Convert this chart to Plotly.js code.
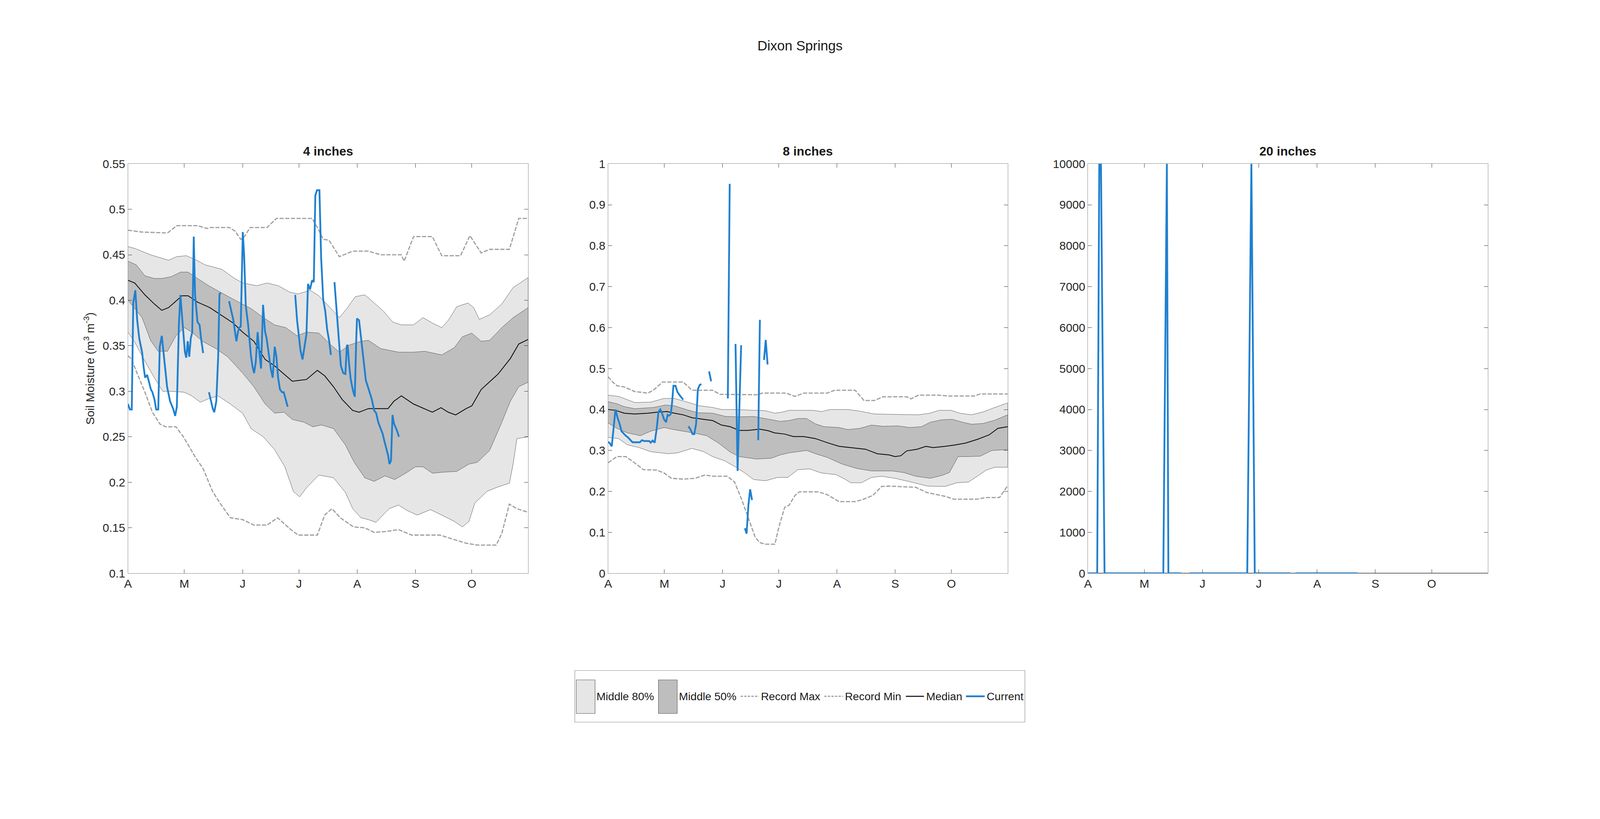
<!DOCTYPE html>
<html>
<head>
<meta charset="utf-8">
<title>Dixon Springs soil moisture</title>
<script src="https://cdn.plot.ly/plotly-3.0.1.min.js"></script>
<style>
  html, body { margin: 0; padding: 0; background: #ffffff; overflow: hidden; }
  #mainViz { width: 100vw; height: 100vh; }
</style>
</head>
<body>
<div id="mainViz"></div>
<script>
// x axis = days since April 1 (Apr 1 .. Oct 31)
const monthTickDays = [0, 30, 61, 91, 122, 153, 183];
const monthTickLabels = ['A', 'M', 'J', 'J', 'A', 'S', 'O'];
const seasonEnd = 213;

const panelTitles = ['4 inches', '8 inches', '20 inches'];
const legendLabels = ['Middle 80%', 'Middle 50%', 'Record Max', 'Record Min', 'Median', 'Current'];

// y ticks per panel
const yTicks4 = [0.1, 0.15, 0.2, 0.25, 0.3, 0.35, 0.4, 0.45, 0.5, 0.55];
const yLabels4 = ['0.1', '0.15', '0.2', '0.25', '0.3', '0.35', '0.4', '0.45', '0.5', '0.55'];
const yTicks8 = [0, 0.1, 0.2, 0.3, 0.4, 0.5, 0.6, 0.7, 0.8, 0.9, 1];
const yLabels8 = ['0', '0.1', '0.2', '0.3', '0.4', '0.5', '0.6', '0.7', '0.8', '0.9', '1'];
const yTicks20 = [0, 1000, 2000, 3000, 4000, 5000, 6000, 7000, 8000, 9000, 10000];
const yLabels20 = ['0', '1000', '2000', '3000', '4000', '5000', '6000', '7000', '8000', '9000', '10000'];

// ---------------- 4 inches ----------------
const p90Days4 = [0, 3.6, 12, 21.6, 26, 31, 36.5, 41, 50, 56, 61, 68.6, 74, 80, 86, 90.6, 97, 101.6, 108, 112.5,
  116.5, 121, 126, 130, 136, 141, 145.5, 152, 157, 162, 167, 170.5, 175, 181, 184, 187, 192.5, 199, 205, 213];
const p90_4 = [0.459, 0.457, 0.450, 0.444, 0.448, 0.449, 0.444, 0.439, 0.434, 0.425, 0.419, 0.416, 0.419, 0.416, 0.409, 0.407, 0.411, 0.405, 0.391, 0.381,
  0.391, 0.404, 0.406, 0.399, 0.388, 0.376, 0.373, 0.373, 0.381, 0.375, 0.370, 0.378, 0.393, 0.397, 0.392, 0.379, 0.384, 0.396, 0.414, 0.425];

const p75Days4 = [0, 4.4, 9, 14, 18, 23, 28, 32, 37, 43, 50, 58, 65.5, 72, 78, 84, 90, 95, 101.6, 108,
  112.5, 118, 124, 128, 134.5, 144, 152, 158, 167, 173.7, 178, 183, 188, 192.5, 199, 205, 213];
const p75_4 = [0.443, 0.439, 0.427, 0.424, 0.424, 0.426, 0.431, 0.431, 0.424, 0.416, 0.408, 0.399, 0.391, 0.381, 0.373, 0.370, 0.361, 0.365, 0.364, 0.351,
  0.343, 0.351, 0.355, 0.356, 0.347, 0.343, 0.343, 0.344, 0.340, 0.348, 0.360, 0.364, 0.355, 0.356, 0.370, 0.381, 0.392];

const medDays4 = [0, 3.6, 9, 14, 18, 21.6, 25.5, 28.7, 32, 37, 43.5, 50, 56, 61, 67, 73, 78, 83, 87.5, 91,
  95, 100.8, 104.7, 109.4, 114, 119.6, 123, 128, 138.4, 141.5, 145.5, 152, 156.4, 162, 166.6, 170.5, 174.4, 180, 183, 188,
  197, 203.5, 208, 213];
const median4 = [0.422, 0.419, 0.406, 0.396, 0.389, 0.392, 0.399, 0.405, 0.405, 0.398, 0.392, 0.383, 0.375, 0.365, 0.355, 0.335, 0.328, 0.319, 0.311, 0.312,
  0.313, 0.323, 0.317, 0.305, 0.291, 0.279, 0.277, 0.281, 0.281, 0.289, 0.295, 0.286, 0.282, 0.277, 0.282, 0.277, 0.274, 0.281, 0.284, 0.302,
  0.319, 0.336, 0.352, 0.357];

const p25Days4 = [0, 3.6, 7.5, 12, 16, 21, 25.5, 30, 34, 39.6, 46.7, 53, 61, 67, 73, 78, 83, 87.5, 93.7, 98.4,
  103, 109.4, 115.7, 120.4, 126, 131, 136.8, 142, 148.6, 153, 157, 162, 167, 175, 181.5, 186, 192.5, 199, 203.5, 208, 213];
const p25_4 = [0.400, 0.391, 0.381, 0.356, 0.344, 0.344, 0.361, 0.370, 0.365, 0.355, 0.347, 0.338, 0.320, 0.305, 0.286, 0.276, 0.277, 0.269, 0.266, 0.261,
  0.263, 0.259, 0.241, 0.222, 0.205, 0.201, 0.207, 0.203, 0.211, 0.217, 0.217, 0.210, 0.211, 0.212, 0.220, 0.222, 0.235, 0.266, 0.289, 0.305, 0.310];

const p10Days4 = [0, 3.6, 9, 14, 18.5, 23, 30, 34, 38.5, 43, 48, 54.5, 61, 65.5, 72, 78, 83.5, 88, 91.4, 95,
  101.6, 109.4, 115.7, 119.6, 124, 128, 132, 139, 144, 148.6, 154, 161, 167, 173.7, 178, 181.5, 184.6, 191, 197, 203,
  205, 207, 213];
const p10_4 = [0.365, 0.354, 0.333, 0.315, 0.300, 0.300, 0.299, 0.295, 0.288, 0.292, 0.295, 0.286, 0.276, 0.259, 0.250, 0.236, 0.217, 0.190, 0.184, 0.194,
  0.208, 0.205, 0.189, 0.171, 0.161, 0.159, 0.156, 0.171, 0.175, 0.169, 0.164, 0.170, 0.164, 0.157, 0.151, 0.157, 0.177, 0.190, 0.195, 0.199,
  0.220, 0.248, 0.250];

const maxDays4 = [0, 7.5, 21, 26, 37, 42, 44, 54, 57, 60, 62, 65, 74, 79, 98, 100, 104, 107, 112.5, 119.6,
  128, 134.5, 145.5, 147, 152, 162, 167, 177, 182, 188, 192.5, 203, 208, 213];
const recMax4 = [0.477, 0.475, 0.474, 0.482, 0.482, 0.479, 0.480, 0.480, 0.476, 0.467, 0.470, 0.480, 0.480, 0.490, 0.490, 0.483, 0.467, 0.466, 0.448, 0.454,
  0.454, 0.450, 0.450, 0.443, 0.470, 0.470, 0.449, 0.449, 0.471, 0.452, 0.456, 0.456, 0.490, 0.490];

const minDays4 = [0, 2, 4.4, 9, 13, 17, 20, 25.5, 29.5, 36, 40, 45, 49, 54.5, 61, 67, 74, 79.6, 86.7, 90.6,
  100.8, 104.7, 108.6, 113, 120, 126, 131, 137.6, 144, 151, 166, 172, 180, 186, 196, 199, 203, 207, 213];
const recMin4 = [0.339, 0.335, 0.322, 0.299, 0.277, 0.264, 0.261, 0.261, 0.250, 0.227, 0.215, 0.190, 0.177, 0.161, 0.159, 0.153, 0.153, 0.161, 0.148, 0.142,
  0.142, 0.164, 0.171, 0.161, 0.151, 0.150, 0.145, 0.146, 0.148, 0.142, 0.142, 0.138, 0.133, 0.131, 0.131, 0.144, 0.176, 0.171, 0.167];

// current season, null = missing data
const curDays4 = [0, 1, 2, 2.8, 3.9, 4.9, 6, 7.5, 8.3, 9.1, 10.2, 11, 12.2, 13, 14.1, 15, 16.1, 16.9, 18, 19.3,
  20.8, 22.4, 24, 25.1, 26, 27.1, 27.9, 28.7, 29.5, 30.3, 31, 31.8, 32.6, 33.4, 34.2, 35, 35.7, 37, 38.1, 38.9, 40,
  null,
  43.1, 44.4, 45.1, 45.9, 47, 48, 48.7, 49.5,
  null,
  53.8, 55, 56.1, 56.9, 57.7, 58.5, 59.2, 60, 61.1, 61.8, 62.7, 63.9, 64.9, 65.5, 66.3, 67.1, 68, 69, 69.9, 70.8,
  71.9, 72.9, 73.8, 74.9, 76, 77, 78.1, 79, 79.9, 80.9, 82, 82.9, 83.9, 85,
  null,
  89, 90, 91.1, 91.8, 92.9, 94, 95, 95.8, 96.9, 98, 98.9, 99.7, 100.6, 101.9, 102.8, 103.9, 105, 106, 107.1, 108,
  null,
  109.9, 111, 112.2, 113.3, 114.6, 115.7, 116.5, 116.9, 117.6, 118.5, 119.6, 120.7, 121.5, 121.9, 123, 123.8, 124.8, 125.9, 126.6, 127.7,
  128.7, 129.8, 131, 132.1, 133.2, 134.5, 135.6, 136.5, 137.6, 138.4, 139.2, 140, 140.8, 141.5, 142.3, 143.3, 144.2];
const current4 = [0.286, 0.280, 0.280, 0.397, 0.411, 0.378, 0.358, 0.343, 0.327, 0.315, 0.318, 0.312, 0.302, 0.299, 0.291, 0.280, 0.280, 0.349, 0.361, 0.335,
  0.305, 0.289, 0.281, 0.273, 0.283, 0.374, 0.406, 0.384, 0.361, 0.343, 0.337, 0.355, 0.338, 0.358, 0.365, 0.470, 0.406, 0.376, 0.373, 0.358, 0.342,
  null,
  0.299, 0.287, 0.281, 0.277, 0.289, 0.338, 0.407, 0.408,
  null,
  0.399, 0.388, 0.378, 0.366, 0.355, 0.365, 0.370, 0.371, 0.475, 0.450, 0.394, 0.374, 0.351, 0.338, 0.327, 0.320, 0.332, 0.365, 0.343, 0.325,
  0.395, 0.366, 0.358, 0.342, 0.325, 0.315, 0.349, 0.338, 0.315, 0.302, 0.299, 0.299, 0.291, 0.283,
  null,
  0.406, 0.378, 0.358, 0.345, 0.335, 0.351, 0.363, 0.418, 0.412, 0.422, 0.420, 0.515, 0.521, 0.521, 0.447, 0.401, 0.388, 0.368, 0.355, 0.340,
  null,
  0.420, 0.391, 0.358, 0.328, 0.320, 0.319, 0.350, 0.351, 0.332, 0.314, 0.302, 0.294, 0.358, 0.380, 0.378, 0.365, 0.345, 0.325, 0.312, 0.305,
  0.299, 0.291, 0.279, 0.276, 0.266, 0.259, 0.253, 0.245, 0.236, 0.230, 0.220, 0.224, 0.274, 0.265, 0.261, 0.256, 0.250];

// ---------------- 8 inches ----------------
const p90Days8 = [0, 5.5, 10.2, 14.1, 22.7, 29.8, 35.3, 41.6, 48.6, 55.7, 60.4, 68.2, 77.6, 83.9, 88.9, 93.3, 96.4, 109, 113.7, 118.4,
  127.8, 134.1, 141.9, 152.9, 165.4, 171.7, 176.4, 182.7, 187.4, 193.7, 199.9, 206.2, 213];
const p90_8 = [0.435, 0.432, 0.424, 0.417, 0.418, 0.427, 0.427, 0.419, 0.409, 0.405, 0.400, 0.400, 0.398, 0.397, 0.391, 0.394, 0.398, 0.398, 0.395, 0.400,
  0.400, 0.396, 0.389, 0.388, 0.387, 0.391, 0.398, 0.398, 0.391, 0.387, 0.394, 0.405, 0.416];

const p75Days8 = [0, 4.7, 8.6, 14.1, 24.3, 30.6, 35.3, 41.6, 47.8, 55.7, 62.7, 69.8, 77.6, 85.5, 91.7, 96.4, 101.1, 105.8, 110.5, 115.2,
  123.1, 127.8, 134.1, 140.4, 146.6, 154.4, 160.7, 167, 171.7, 178, 183.5, 189, 193.7, 199.9, 206.2, 213];
const p75_8 = [0.419, 0.414, 0.407, 0.402, 0.405, 0.411, 0.409, 0.400, 0.392, 0.391, 0.383, 0.382, 0.383, 0.376, 0.371, 0.373, 0.378, 0.378, 0.365, 0.358,
  0.356, 0.351, 0.354, 0.362, 0.359, 0.360, 0.356, 0.358, 0.369, 0.375, 0.376, 0.369, 0.364, 0.366, 0.374, 0.387];

const medDays8 = [0, 3.9, 8.6, 14.1, 21.2, 27.4, 31.4, 35.3, 40, 44.7, 51, 55.7, 60.4, 65.1, 69.8, 74.5, 80.8, 85.5, 88.6, 94.1,
  98.8, 104.3, 110.5, 116.8, 123.1, 129.4, 137.2, 143.5, 149.8, 152.9, 156, 159.2, 164.7, 169.4, 173.3, 179.6, 184.3, 190.5, 196.8, 203.1,
  207.8, 213];
const median8 = [0.400, 0.398, 0.391, 0.389, 0.391, 0.394, 0.395, 0.391, 0.387, 0.380, 0.376, 0.373, 0.362, 0.358, 0.349, 0.349, 0.352, 0.348, 0.343, 0.340,
  0.334, 0.334, 0.329, 0.319, 0.310, 0.307, 0.303, 0.292, 0.289, 0.285, 0.287, 0.299, 0.303, 0.310, 0.307, 0.310, 0.313, 0.318, 0.327, 0.338,
  0.354, 0.358];

const p25Days8 = [0, 4.7, 10.2, 17.2, 22.7, 29.8, 33.7, 40, 46.3, 52.5, 58.8, 65.1, 69.8, 79.2, 87, 91.7, 96.4, 101.1, 105.8, 110.5,
  116.8, 124.6, 132.5, 140.4, 151.3, 157.6, 163.9, 171.7, 178, 181.9, 186.6, 191.3, 198.4, 204.6, 213];
const p25_8 = [0.367, 0.354, 0.343, 0.336, 0.347, 0.356, 0.352, 0.347, 0.342, 0.336, 0.318, 0.296, 0.285, 0.279, 0.281, 0.289, 0.294, 0.297, 0.300, 0.292,
  0.283, 0.267, 0.256, 0.250, 0.250, 0.246, 0.237, 0.232, 0.239, 0.246, 0.285, 0.285, 0.286, 0.300, 0.302];

const p10Days8 = [0, 5.5, 10.2, 16.5, 22.7, 32.1, 36.9, 44.7, 51, 55.7, 62, 68.2, 72.9, 77.6, 83.9, 90.2, 95.7, 101.1, 107.4, 113.7,
  121.5, 126.2, 129.4, 134.9, 140.4, 145.8, 152.9, 161.5, 170.1, 179.6, 185.8, 192.1, 196.8, 201.5, 206.2, 213];
const p10_8 = [0.332, 0.329, 0.314, 0.307, 0.297, 0.292, 0.294, 0.305, 0.297, 0.285, 0.275, 0.259, 0.245, 0.229, 0.226, 0.234, 0.234, 0.253, 0.255, 0.245,
  0.241, 0.230, 0.221, 0.221, 0.234, 0.237, 0.232, 0.223, 0.213, 0.212, 0.221, 0.223, 0.237, 0.252, 0.259, 0.259];

const maxDays8 = [0, 2.4, 4.7, 8.6, 14.1, 21.2, 24.3, 29, 40, 44.7, 55.7, 59.6, 79.2, 82.3, 94.9, 99.6, 104.3, 116.8, 120.7, 131.7,
  136.4, 141.9, 146.6, 159.2, 161.5, 165.4, 176.4, 181.1, 195.2, 198.4, 213];
const recMax8 = [0.480, 0.467, 0.458, 0.455, 0.444, 0.440, 0.448, 0.467, 0.467, 0.447, 0.447, 0.437, 0.436, 0.440, 0.440, 0.432, 0.440, 0.440, 0.447, 0.447,
  0.422, 0.422, 0.431, 0.431, 0.426, 0.435, 0.435, 0.433, 0.433, 0.438, 0.438];

const minDays8 = [0, 4.7, 9.4, 14.9, 18.8, 25.9, 29.8, 33.7, 40, 46.3, 51.7, 55.7, 63.5, 67.4, 71.3, 75.3, 78.4, 80.8, 83.9, 88.9,
  91, 94.1, 96.4, 99.6, 101.9, 107.4, 112.1, 116.8, 123.1, 131.7, 135.6, 141.1, 145.8, 149.8, 163.9, 170.1, 179.6, 184.3, 196.8, 201.5,
  208.6, 213];
const recMin8 = [0.270, 0.285, 0.285, 0.267, 0.253, 0.252, 0.245, 0.232, 0.230, 0.232, 0.240, 0.237, 0.237, 0.223, 0.179, 0.128, 0.088, 0.075, 0.071, 0.071,
  0.113, 0.161, 0.166, 0.190, 0.199, 0.199, 0.199, 0.192, 0.175, 0.175, 0.180, 0.190, 0.212, 0.213, 0.210, 0.197, 0.188, 0.181, 0.181, 0.185,
  0.185, 0.214];

const curDays8 = [0, 0.8, 1.9, 2.8, 3.9, 5, 6.3, 7.1, 8.3, 9.4, 10.5, 11.8, 13, 14.3, 15.7, 16.9, 18, 19.3, 20.9, 21.9,
  22.7, 23.7, 24.8, 25.9, 26.8, 27.8, 28.7, 29.8, 30.9, 31.7, 32.5, 33.4, 34, 34.8, 35.9, 36.9, 38.1, 39.2, 40,
  null, 42.8, 43.9, 45, 45.9, 46.9, 47.8, 48.8, 49.7,
  null, 53.8, 54.9,
  null, 63.8, 64.8,
  null, 67.9, 69, 70.9,
  null, 72.9, 73.8, 74.8, 75.7, 76.7,
  null, 80, 80.9,
  null, 83.1, 84, 85];
const current8 = [0.321, 0.318, 0.310, 0.354, 0.400, 0.380, 0.362, 0.347, 0.341, 0.336, 0.332, 0.325, 0.320, 0.320, 0.320, 0.320, 0.325, 0.323, 0.323, 0.323,
  0.319, 0.324, 0.319, 0.354, 0.394, 0.400, 0.391, 0.376, 0.369, 0.387, 0.385, 0.389, 0.413, 0.458, 0.458, 0.443, 0.435, 0.429, 0.424,
  null, 0.359, 0.351, 0.340, 0.340, 0.365, 0.449, 0.460, 0.462,
  null, 0.493, 0.469,
  null, 0.427, 0.951,
  null, 0.560, 0.250, 0.557,
  null, 0.110, 0.097, 0.168, 0.205, 0.179,
  null, 0.325, 0.619,
  null, 0.521, 0.570, 0.510];

// ---------------- 20 inches ----------------
const medDays20 = [0, 61, 122, 183, 213];
const median20 = [0.38, 0.37, 0.33, 0.32, 0.35];

const curDays20 = [0, 4.9, 6, 6.9, 8.8, 40.1, 42, 42.8, 49.5, null, 54.2, 84.8, 87, 88.8, 107.8, null, 110.5, 143.5];
const current20 = [0, 0, 10000, 10000, 0, 0, 10000, 0, 0, null, 0, 0, 10000, 0, 0, null, 0, 0];

// ---------------- styles ----------------
// reference layout is 5375 x 2096; all pixel sizes scale with the real window
const BASE_W = 5375;
const BASE_H = 2096;
const W = window.innerWidth || BASE_W;
const H = window.innerHeight || BASE_H;
const S = W / BASE_W;
const px = v => v * S;
const dashPx = arr => arr.map(v => (v * S).toFixed(2) + 'px').join(',');

const FONT = 'Liberation Sans, Arial, Helvetica, sans-serif';
const TEXT_COLOR = '#262626';
const AXIS_LINE = '#8a8a8a';
const LIGHT_BAND = '#e6e6e6';
const DARK_BAND = '#bebebe';
const RECORD_COLOR = '#a0a0a0';
const CURRENT_COLOR = '#1f80d0';
const RECORD_DASH = dashPx([14, 5]);

// Closed polygon between an upper and a lower percentile curve
function bandTrace(upDays, up, loDays, lo, color, name, idx) {
    return {
        type: 'scatter',
        mode: 'lines',
        name: name,
        showlegend: false,
        x: upDays.concat(loDays.slice().reverse()),
        y: up.concat(lo.slice().reverse()),
        fill: 'toself',
        fillcolor: color,
        line: { color: '#303030', width: px(1) },
        xaxis: idx === 1 ? 'x' : 'x' + idx,
        yaxis: idx === 1 ? 'y' : 'y' + idx,
        hoverinfo: 'skip'
    };
}

function lineTrace(days, vals, name, idx, style) {
    return {
        type: 'scatter',
        mode: 'lines',
        name: name,
        showlegend: false,
        x: days,
        y: vals,
        connectgaps: false,
        line: style,
        xaxis: idx === 1 ? 'x' : 'x' + idx,
        yaxis: idx === 1 ? 'y' : 'y' + idx
    };
}

function xAxisFor(domain, anchor) {
    return {
        domain: domain,
        anchor: anchor,
        range: [0, seasonEnd],
        tickmode: 'array',
        tickvals: monthTickDays,
        ticktext: monthTickLabels,
        ticks: 'inside',
        ticklen: px(13),
        tickwidth: px(1.2),
        tickcolor: TEXT_COLOR,
        showline: true,
        linecolor: AXIS_LINE,
        linewidth: px(1.5),
        mirror: 'ticks',
        showgrid: false,
        zeroline: false,
        ticklabelstandoff: px(4),
        tickfont: { family: FONT, size: px(39), color: TEXT_COLOR }
    };
}

function yAxisFor(range, vals, labels, anchor) {
    return {
        domain: [0.30, 0.80],
        anchor: anchor,
        range: range,
        tickmode: 'array',
        tickvals: vals,
        ticktext: labels,
        ticks: 'inside',
        ticklen: px(13),
        tickwidth: px(1.2),
        tickcolor: TEXT_COLOR,
        showline: true,
        linecolor: AXIS_LINE,
        linewidth: px(1.5),
        mirror: 'ticks',
        showgrid: false,
        zeroline: false,
        ticklabelstandoff: px(8),
        tickfont: { family: FONT, size: px(39), color: TEXT_COLOR }
    };
}

// Legend drawn as a framed box under the middle panel, like the original figure
function buildLegend() {
    const toX = v => v / BASE_W;
    const toY = v => 1 - v / BASE_H;
    const midY = toY(1782);
    const shapes = [{
        type: 'rect', xref: 'paper', yref: 'paper',
        x0: toX(1931), x1: toX(3443), y0: toY(1848), y1: toY(1716),
        line: { color: AXIS_LINE, width: px(1.5) }, fillcolor: '#ffffff', layer: 'below'
    }];
    const patches = [[1936, 1999, LIGHT_BAND], [2212, 2275, DARK_BAND]];
    patches.forEach(p => shapes.push({
        type: 'rect', xref: 'paper', yref: 'paper',
        x0: toX(p[0]), x1: toX(p[1]), y0: toY(1826), y1: toY(1740),
        line: { color: '#555555', width: px(1.5) }, fillcolor: p[2]
    }));
    const samples = [
        [2488, 2549, { color: RECORD_COLOR, width: px(4), dash: dashPx([8, 4]) }],
        [2769, 2832, { color: RECORD_COLOR, width: px(4), dash: dashPx([8, 4]) }],
        [3043, 3104, { color: '#000000', width: px(3) }],
        [3245, 3308, { color: CURRENT_COLOR, width: px(6) }]
    ];
    samples.forEach(s => shapes.push({
        type: 'line', xref: 'paper', yref: 'paper',
        x0: toX(s[0]), x1: toX(s[1]), y0: midY, y1: midY, line: s[2]
    }));
    const textX = [2003, 2280, 2555, 2837, 3110, 3314];
    const annotations = legendLabels.map((label, i) => ({
        text: label, xref: 'paper', yref: 'paper',
        x: toX(textX[i]), y: midY, xanchor: 'left', yanchor: 'middle',
        showarrow: false, borderpad: 0,
        font: { family: FONT, size: px(37), color: '#1a1a1a' }
    }));
    return { shapes, annotations };
}

function initChart() {
    const medianStyle = { color: '#000000', width: px(2.6) };
    const recordStyle = { color: RECORD_COLOR, width: px(4), dash: RECORD_DASH };
    const currentStyle = { color: CURRENT_COLOR, width: px(6) };

    const traces = [
        // 4 inches
        bandTrace(p90Days4, p90_4, p10Days4, p10_4, LIGHT_BAND, 'Middle 80%', 1),
        bandTrace(p75Days4, p75_4, p25Days4, p25_4, DARK_BAND, 'Middle 50%', 1),
        lineTrace(maxDays4, recMax4, 'Record Max', 1, recordStyle),
        lineTrace(minDays4, recMin4, 'Record Min', 1, recordStyle),
        lineTrace(medDays4, median4, 'Median', 1, medianStyle),
        lineTrace(curDays4, current4, 'Current', 1, currentStyle),
        // 8 inches
        bandTrace(p90Days8, p90_8, p10Days8, p10_8, LIGHT_BAND, 'Middle 80%', 2),
        bandTrace(p75Days8, p75_8, p25Days8, p25_8, DARK_BAND, 'Middle 50%', 2),
        lineTrace(maxDays8, recMax8, 'Record Max', 2, recordStyle),
        lineTrace(minDays8, recMin8, 'Record Min', 2, recordStyle),
        lineTrace(medDays8, median8, 'Median', 2, medianStyle),
        lineTrace(curDays8, current8, 'Current', 2, currentStyle),
        // 20 inches
        lineTrace(medDays20, median20, 'Median', 3, medianStyle),
        lineTrace(curDays20, current20, 'Current', 3, currentStyle)
    ];

    const domainsX = [[0.0800, 0.3301], [0.3801, 0.6298], [0.6800, 0.9300]];

    const titleNotes = panelTitles.map((t, i) => ({
        text: '<b>' + t + '</b>',
        xref: 'paper', yref: 'paper',
        x: (domainsX[i][0] + domainsX[i][1]) / 2,
        y: 1 - 387 / BASE_H,
        xanchor: 'center', yanchor: 'middle',
        showarrow: false,
        font: { family: FONT, size: px(42), color: '#1a1a1a' }
    }));

    const legend = buildLegend();

    const yaxis1 = yAxisFor([0.1, 0.55], yTicks4, yLabels4, 'x');
    yaxis1.title = {
        text: 'Soil Moisture (m<sup>3</sup> m<sup>-3</sup>)',
        font: { family: FONT, size: px(39), color: TEXT_COLOR },
        standoff: px(16)
    };

    const layout = {
        width: W,
        height: H,
        margin: { l: 0, r: 0, t: 0, b: 0, pad: 0 },
        paper_bgcolor: '#ffffff',
        plot_bgcolor: '#ffffff',
        title: {
            text: 'Dixon Springs',
            x: 0.5, xanchor: 'center',
            y: 1 - 117 / BASE_H, yanchor: 'middle',
            font: { family: FONT, size: px(46), color: '#1a1a1a' }
        },
        xaxis: xAxisFor(domainsX[0], 'y'),
        xaxis2: xAxisFor(domainsX[1], 'y2'),
        xaxis3: xAxisFor(domainsX[2], 'y3'),
        yaxis: yaxis1,
        yaxis2: yAxisFor([0, 1], yTicks8, yLabels8, 'x2'),
        yaxis3: yAxisFor([0, 10000], yTicks20, yLabels20, 'x3'),
        showlegend: false,
        shapes: legend.shapes,
        annotations: titleNotes.concat(legend.annotations)
    };

    Plotly.newPlot('mainViz', traces, layout, { displayModeBar: false, staticPlot: true })
        .catch(err => console.error('Error plotting chart:', err));
}

initChart();
</script>
</body>
</html>
